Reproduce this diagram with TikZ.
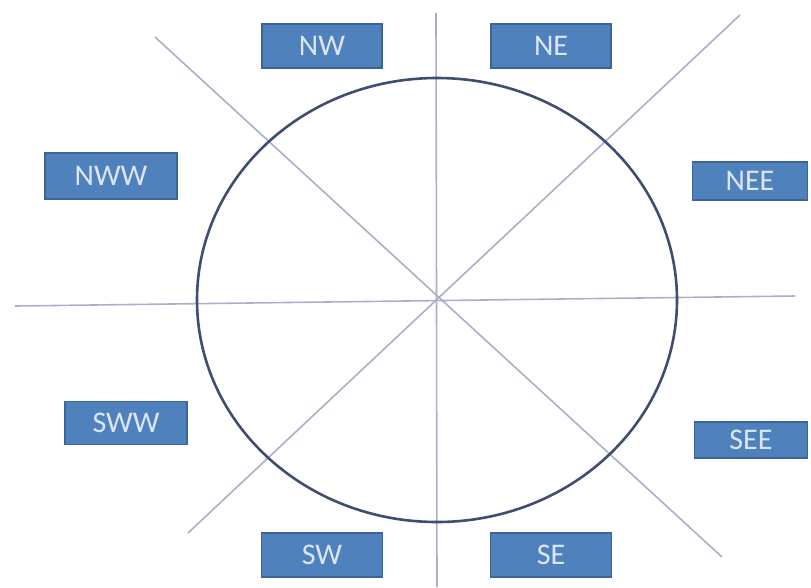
\documentclass[tikz,border=0pt]{standalone}
\usepackage{fontspec}
\setmainfont{Carlito}
\usetikzlibrary{positioning}
\definecolor{cbox}{HTML}{4F81BD}
\definecolor{cboxline}{HTML}{3B6596}
\definecolor{ctext}{HTML}{DCE6F2}
\definecolor{cring}{HTML}{3F4E6E}
\definecolor{caxis}{HTML}{A9B0CC}
\tikzset{
  every picture/.style={line width=1.5pt},
  dir/.style={draw=cboxline, fill=cbox, text=ctext, inner sep=0pt, line width=1.2pt,
    font=\fontsize{30}{36}\selectfont},
  axis/.style={draw=caxis, line width=1.6pt},
  ring/.style={draw=cring, line width=2.6pt},
}
\begin{document}
\begin{tikzpicture}[x=1pt, y=-1pt]
  \useasboundingbox (0,0) rectangle (811,587);
  % centre and axis ends
  \coordinate (o) at (437,300);
  \coordinate (top) at (436,13);
  \coordinate (bot) at (437,587);
  \coordinate (lft) at (15,306);
  \coordinate (rgt) at (795,296);
  \coordinate (d1a) at (155,37);
  \coordinate (d1b) at (722,557);
  \coordinate (d2a) at (740,15);
  \coordinate (d2b) at (188,533);
  \draw[axis] (top) -- (bot);
  \draw[axis] (lft) -- (rgt);
  \draw[axis] (d1a) -- (d1b);
  \draw[axis] (d2a) -- (d2b);
  \draw[ring] (o) ellipse [x radius=240, y radius=222];
  % direction labels
  \foreach \name/\x/\y/\w/\h in {NW/322/46/120/44, NE/551/46/120/44,
      NWW/111/176/132/46, NEE/750/181/115/38, SWW/126/423/122/43,
      SEE/751/440/113/36, SW/322/555/121/44, SE/551/555/121/44} {
    \node[dir, minimum width=\w pt, minimum height=\h pt] (\name) at (\x,\y) {\name};
  }
\end{tikzpicture}
\end{document}
